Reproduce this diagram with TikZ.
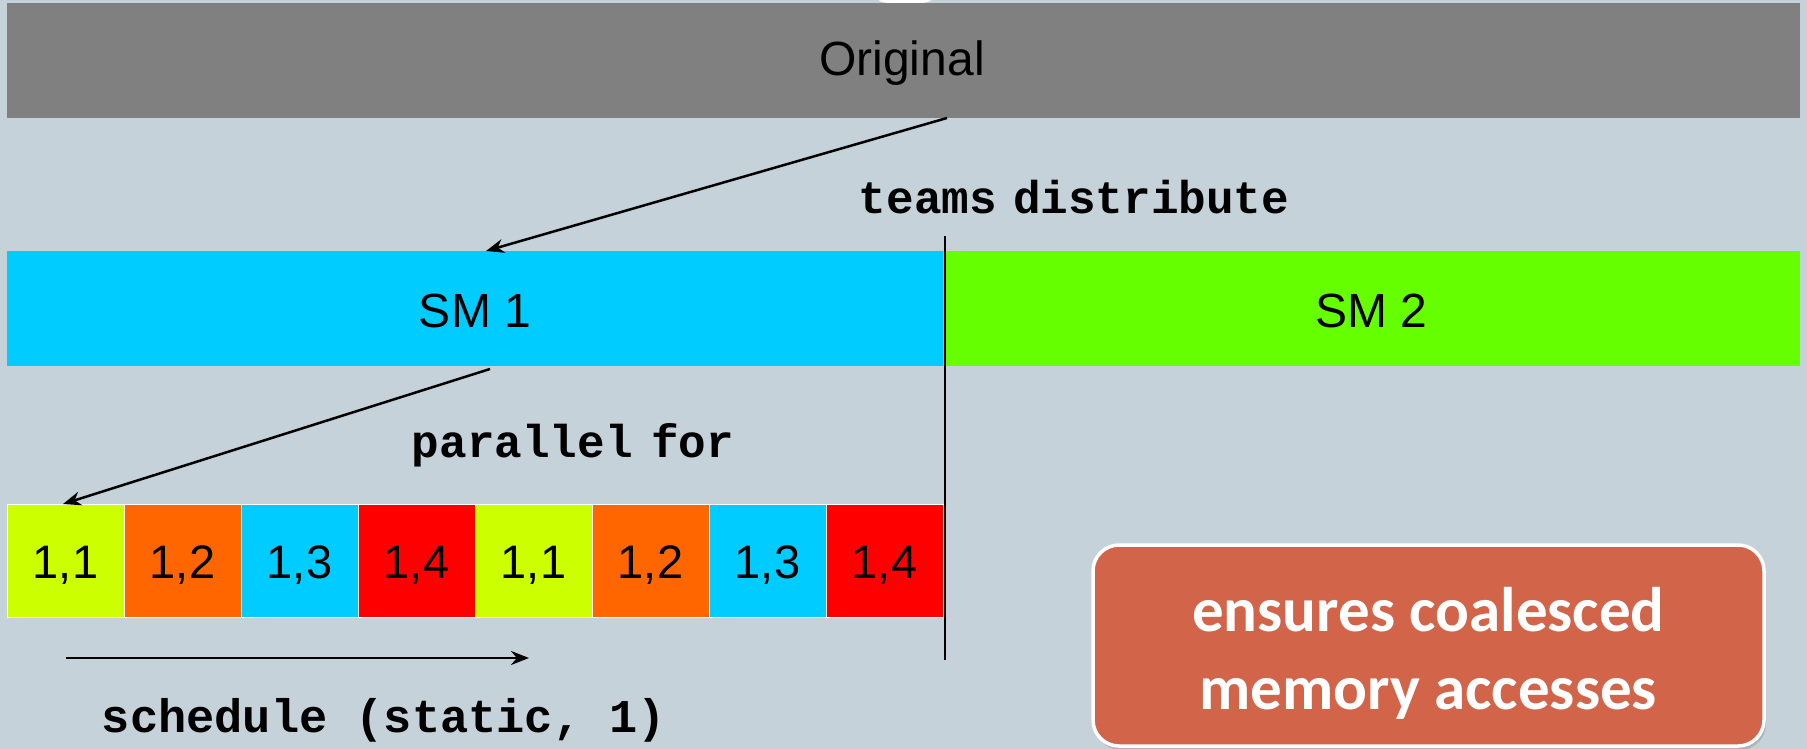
\documentclass[tikz,border=0pt]{standalone}
\usepackage{fontspec}
\setmainfont{Liberation Sans}
\setmonofont{Liberation Mono}
\newfontfamily\calfont{Carlito}
\usetikzlibrary{arrows.meta,shadows}
\definecolor{bgc}{HTML}{C6D2D9}
\definecolor{grayc}{HTML}{808080}
\definecolor{cyanc}{HTML}{00CCFF}
\definecolor{greenc}{HTML}{66FF00}
\definecolor{limec}{HTML}{CCFF00}
\definecolor{orangec}{HTML}{FF6600}
\definecolor{redc}{HTML}{FF0000}
\definecolor{boxc}{HTML}{D2644A}
\tikzset{
  bar/.style={inner sep=0pt, font=\fontsize{48}{56}\selectfont, text=black},
  cell/.style={inner sep=0pt, minimum width=117pt, minimum height=113pt, font=\fontsize{46}{54}\selectfont, draw=white, line width=0.8pt},
  code/.style={inner sep=0pt, font=\ttfamily\bfseries\fontsize{46}{54}\selectfont},
  conn/.style={line width=2.5pt, -{Stealth[length=18pt,width=14pt]}},
  note/.style={rounded corners=26pt, fill=boxc, draw=white, line width=3.5pt,
     minimum width=671pt, minimum height=201pt, inner sep=0pt,
     drop shadow={shadow xshift=2pt, shadow yshift=-4pt, opacity=0.35}},
  notetext/.style={text=white, font=\calfont\bfseries\fontsize{63}{78}\selectfont, align=center, inner sep=0pt}
}
\begin{document}
\begin{tikzpicture}[x=1pt,y=-1pt]
\useasboundingbox (0,0) rectangle (1807,749);
\fill[bgc] (0,0) rectangle (1807,749);
\begin{scope}
\clip (0,0) rectangle (1807,749);
\fill[white] (905,0) ellipse (26pt and 4pt);
\end{scope}
% Original bar
\node[bar, fill=grayc, minimum width=1793pt, minimum height=115pt] (orig) at (903.5,60.5) {};
\node[bar] (origt) at (902,63) {Original};
% SM bars
\node[bar, fill=cyanc, minimum width=936pt, minimum height=115pt] (sm1) at (475,308.5) {};
\node[bar] at (475,311) {SM 1};
\node[bar, fill=greenc, minimum width=857pt, minimum height=115pt] (sm2) at (1371.5,308.5) {};
\node[bar] at (1371,311) {SM 2};
% cells
\foreach \i/\c/\t in {0/limec/{1,1},1/orangec/{1,2},2/cyanc/{1,3},3/redc/{1,4},4/limec/{1,1},5/orangec/{1,2},6/cyanc/{1,3},7/redc/{1,4}}{
  \node[cell, fill=\c] (c\i) at (65.5+117*\i,560.5) {};
  \node[inner sep=0pt, font=\fontsize{47}{54}\selectfont] at (65.5+117*\i,565) {\t};
}
% vertical divider
\coordinate (vtop) at (945,236);
\coordinate (vbot) at (945,660);
\draw[line width=2.2pt] (vtop) -- (vbot);
% labels
\node[code] (td) at (1074,197) {teams\hspace{-0.25em} distribute};
\node[code] (pf) at (573,445) {parallel\hspace{-0.2em} for};
\node[code, font=\ttfamily\bfseries\fontsize{47}{54}\selectfont] (sch) at (384,720) {schedule (static, 1)};
% arrows
\coordinate (a1s) at (947,118);
\coordinate (a1e) at (486,251);
\draw[conn] (a1s) -- (a1e);
\coordinate (a2s) at (490,369);
\coordinate (a2e) at (63,504);
\draw[conn] (a2s) -- (a2e);
\coordinate (a3s) at (66,658);
\coordinate (a3e) at (529,658);
\draw[conn] (a3s) -- (a3e);
% note
\node[note] (nt) at (1428.5,645.5) {};
\node[notetext] (ntt) at (1428.5,653) {ensures coalesced\\memory accesses};
\end{tikzpicture}
\end{document}
